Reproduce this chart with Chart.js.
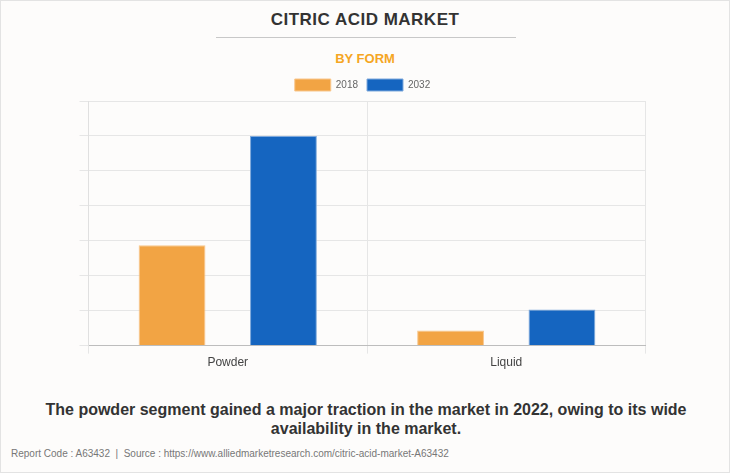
<!DOCTYPE html>
<html>
<head>
<meta charset="utf-8">
<script src="https://cdn.jsdelivr.net/npm/chart.js@4"></script>
<style>
    html, body { margin: 0; padding: 0; background: #fff; }
    #wrap {
        position: relative; width: 730px; height: 473px; box-sizing: border-box;
        background: #fdfcfb; border: 1px solid #e3e3e3; overflow: hidden;
        font-family: "Liberation Sans", Arial, sans-serif;
    }
    #title {
        position: absolute; top: 9px; left: 0; width: 100%; text-align: center;
        font-size: 17px; font-weight: bold; color: #333; letter-spacing: 0.5px;
    }
    #rule { position: absolute; top: 36px; left: 215px; width: 300px; height: 1px; background: #c8c8c8; }
    #subtitle {
        position: absolute; top: 50px; left: 0; width: 100%; text-align: center;
        font-size: 13px; font-weight: bold; color: #f5a623;
    }
    #chartBox { position: absolute; top: 65px; left: 0; width: 730px; height: 306px; }
    #note {
        position: absolute; top: 399px; left: 18px; width: 694px; text-align: center;
        font-size: 16px; font-weight: bold; color: #333; line-height: 19px;
    }
    #footer {
        position: absolute; top: 447px; left: 10px; font-size: 10px; color: #777; white-space: nowrap;
    }
</style>
</head>
<body>
<div id="wrap">
    <div id="title">CITRIC ACID MARKET</div>
    <div id="rule"></div>
    <div id="subtitle">BY FORM</div>
    <div id="chartBox"><canvas id="formChart" width="730" height="306"></canvas></div>
    <div id="note">The powder segment gained a major traction in the market in 2022, owing to its wide availability in the market.</div>
    <div id="footer">Report Code : A63432 &nbsp;|&nbsp; Source : https://www.alliedmarketresearch.com/citric-acid-market-A63432</div>
</div>
<script>
// Chart data
const categories = ['Powder', 'Liquid'];
const seriesLabels = ['2018', '2032'];
const values2018 = [2.87, 0.43];
const values2032 = [6.0, 1.03];

const ctx = document.getElementById('formChart').getContext('2d');

new Chart(ctx, {
    type: 'bar',
    data: {
        labels: categories,
        datasets: [
            {
                label: seriesLabels[0],
                data: values2018,
                backgroundColor: '#f2a444',
                borderColor: '#f8c68c',
                borderWidth: 1,
                categoryPercentage: 0.8,
                barPercentage: 0.6
            },
            {
                label: seriesLabels[1],
                data: values2032,
                backgroundColor: '#1565c0',
                borderColor: '#7fa9dc',
                borderWidth: 1,
                categoryPercentage: 0.8,
                barPercentage: 0.6
            }
        ]
    },
    options: {
        responsive: false,
        animation: false,
        layout: { padding: { left: 78.5, right: 85.5, top: 4, bottom: 0 } },
        plugins: {
            legend: {
                position: 'top',
                labels: {
                    boxWidth: 36,
                    boxHeight: 12,
                    color: '#666',
                    font: { family: 'Liberation Sans', size: 10 },
                    padding: 9
                }
            },
            tooltip: { enabled: false }
        },
        scales: {
            x: {
                grid: { color: '#e6e6e6', tickLength: 8, offset: true },
                border: { color: '#bdbdbd' },
                ticks: { color: '#444', font: { family: 'Liberation Sans', size: 12 }, padding: 2 }
            },
            y: {
                min: 0,
                max: 7,
                ticks: { stepSize: 1, display: false },
                grid: { color: '#e6e6e6', tickLength: 9 },
                border: { color: '#e0e0e0' },
                afterFit: (scale) => { scale.width = 9; }
            }
        }
    }
});
</script>
</body>
</html>
